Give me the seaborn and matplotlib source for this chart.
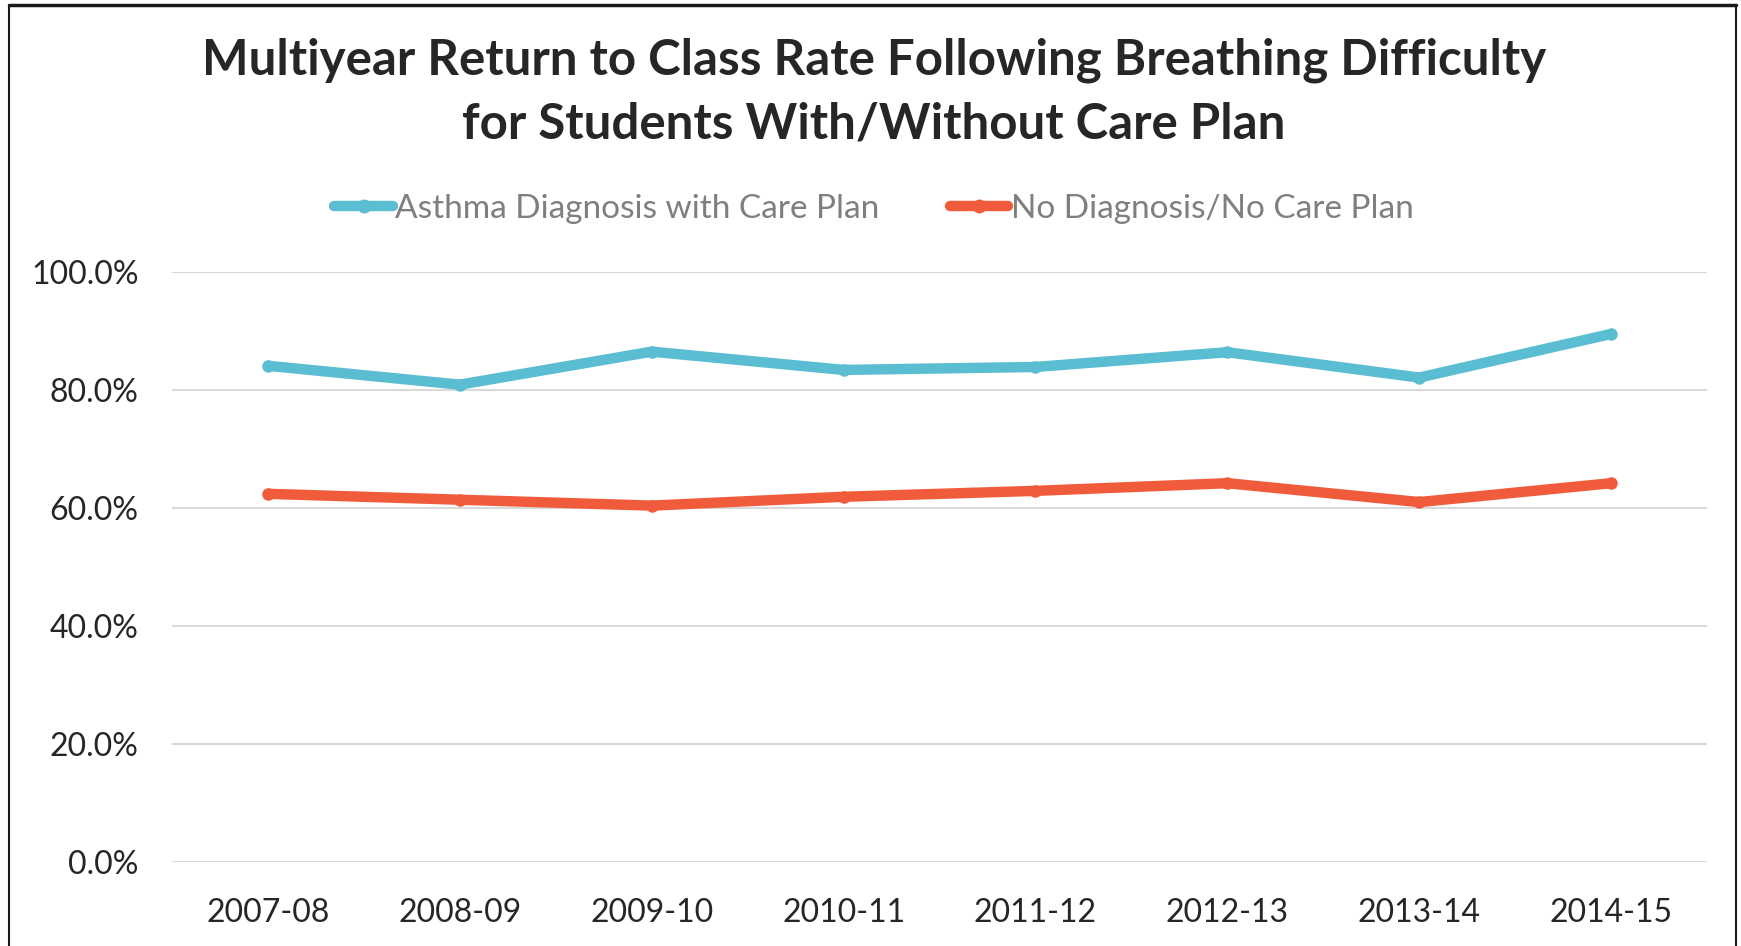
import matplotlib
matplotlib.use("Agg")
import matplotlib.pyplot as plt
import pandas as pd
import seaborn as sns
from matplotlib.lines import Line2D
from matplotlib.ticker import PercentFormatter

years = ["2007-08", "2008-09", "2009-10", "2010-11", "2011-12", "2012-13", "2013-14", "2014-15"]
care_plan = [84.1, 80.9, 86.5, 83.4, 83.9, 86.4, 82.1, 89.5]
no_plan = [62.4, 61.4, 60.4, 61.9, 62.9, 64.2, 61.0, 64.2]
series_names = ["Asthma Diagnosis with Care Plan", "No Diagnosis/No Care Plan"]
colors = ["#5BBDD2", "#F05C3B"]

df = pd.DataFrame({
    "Year": years * 2,
    "Rate": [v / 100 for v in care_plan + no_plan],
    "Series": [series_names[0]] * len(years) + [series_names[1]] * len(years),
})

sns.set_theme(style="white")
plt.rcParams['font.family'] = ['Lato', 'DejaVu Sans']

fig = plt.figure(figsize=(17.41, 9.46), dpi=100)
ax = fig.add_axes([0.0988, 0.0888, 0.8817, 0.6237])

sns.lineplot(data=df, x="Year", y="Rate", hue="Series", palette=colors,
             linewidth=7.5, marker="o", markersize=9, markeredgewidth=0,
             solid_capstyle="round", ax=ax, legend=False)

ax.set_xlim(-0.5, len(years) - 0.5)
ax.set_ylim(0, 1)
ax.set_yticks([0, 0.2, 0.4, 0.6, 0.8, 1.0])
ax.yaxis.set_major_formatter(PercentFormatter(1.0, decimals=1))
ax.grid(axis="y", color="#D9D9D9", linewidth=1.5)
ax.set_axisbelow(True)
for s in ax.spines.values():
    s.set_visible(False)
ax.tick_params(axis="both", length=0, labelsize=23, colors="#262626")
ax.tick_params(axis="y", pad=24)
ax.tick_params(axis="x", pad=26)
ax.set_xlabel("")
ax.set_ylabel("")

fig.text(0.502, 0.903, "Multiyear Return to Class Rate Following Breathing Difficulty\nfor Students With/Without Care Plan",
         ha="center", va="center", fontsize=35.5, fontweight="bold", color="#262626", linespacing=1.5)

handles = [Line2D([0], [0], color=c, linewidth=7.5, marker="o", markersize=9,
                  solid_capstyle="round") for c in colors]
leg = fig.legend(handles, series_names, loc="center", bbox_to_anchor=(0.502, 0.7795), ncol=2,
                 frameon=False, fontsize=24, handlelength=1.75, handletextpad=0.08, columnspacing=2.1)
for t in leg.get_texts():
    t.set_color("#7F7F7F")

# chart border
fig.add_artist(Line2D([0.005, 0.997], [0.995, 0.995], color="#1a1a1a", linewidth=2.5, transform=fig.transFigure))
fig.add_artist(Line2D([0.005, 0.005], [0.0, 0.995], color="#1a1a1a", linewidth=1.5, transform=fig.transFigure))
fig.add_artist(Line2D([0.997, 0.997], [0.0, 0.995], color="#1a1a1a", linewidth=1.5, transform=fig.transFigure))

fig.savefig("out.png", dpi=100)
